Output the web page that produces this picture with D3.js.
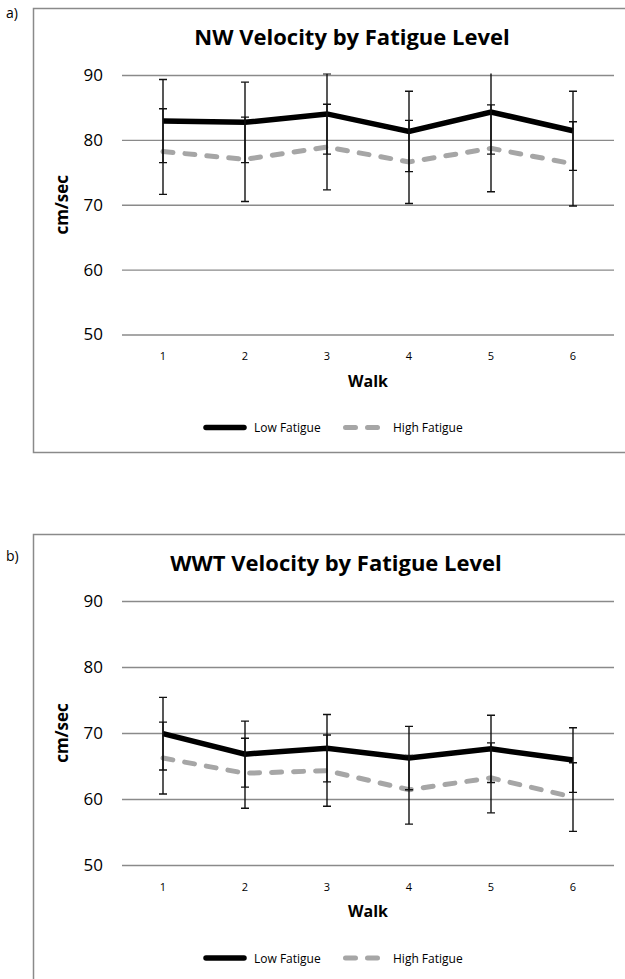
<!DOCTYPE html>
<html>
<head>
<meta charset="utf-8">
<script src="https://cdn.jsdelivr.net/npm/d3@7"></script>
<style>
  html, body { margin: 0; padding: 0; background: #fff; }
  svg { display: block; font-family: "Open Sans", "Liberation Sans", sans-serif; }
</style>
</head>
<body>
<svg id="chart" width="625" height="979"></svg>
<script>
// ---- data ----
const walks = ["1", "2", "3", "4", "5", "6"];
const yTicks = [50, 60, 70, 80, 90];
const seriesNames = ["Low Fatigue", "High Fatigue"];

const nwLow    = [82.9, 82.7, 84.0, 81.3, 84.3, 81.4];
const nwLowSD  = [6.4, 6.2, 6.2, 6.2, 6.5, 6.1];
const nwHigh   = [78.2, 77.0, 78.9, 76.6, 78.7, 76.3];
const nwHighSD = [6.6, 6.5, 6.6, 6.4, 6.7, 6.5];

const wwtLow    = [69.9, 66.8, 67.7, 66.2, 67.6, 65.9];
const wwtLowSD  = [5.5, 5.0, 5.1, 4.8, 5.1, 4.9];
const wwtHigh   = [66.2, 63.9, 64.3, 61.4, 63.2, 60.3];
const wwtHighSD = [5.45, 5.3, 5.4, 5.2, 5.3, 5.2];

// ---- drawing ----
const svg = d3.select("#chart");
const GRID = "#8a8a8a", GRAY = "#a6a6a6";

function drawPanel(opt) {
  const g = svg.append("g");
  // frame
  g.append("path")
    .attr("d", `M660,${opt.frameTop}H33.5V${opt.frameBottom}H660`)
    .attr("fill", "none").attr("stroke", GRID).attr("stroke-width", 1.5);
  // panel letter
  g.append("text").attr("x", 6).attr("y", opt.letterY)
    .attr("font-size", 14).attr("fill", "#000").text(opt.letter);
  // title
  g.append("text").attr("x", opt.titleX).attr("y", opt.yTopPx - 30)
    .attr("text-anchor", "middle").attr("font-size", 22).attr("font-weight", "bold")
    .text(opt.title);

  const x = d3.scaleBand().domain(walks).range([122, 614]);
  const y = d3.scaleLinear().domain([50, 90]).range([opt.yBotPx, opt.yTopPx]);

  // gridlines + y labels
  const yAxis = d3.axisLeft(y).tickValues(yTicks).tickSize(-(614 - 122)).tickPadding(19)
    .tickFormat(d3.format("d"));
  const ya = g.append("g").attr("transform", "translate(122,0)").call(yAxis);
  ya.select(".domain").remove();
  ya.selectAll(".tick line").attr("stroke", GRID).attr("stroke-width", 1.3);
  ya.selectAll(".tick text").attr("font-size", 17).attr("fill", "#000")
    .attr("font-family", "'Open Sans', sans-serif");

  // x labels
  const xAxis = d3.axisBottom(x).tickSize(0).tickPadding(18);
  const xa = g.append("g").attr("transform", `translate(0,${opt.yBotPx})`).call(xAxis);
  xa.select(".domain").remove();
  xa.selectAll(".tick text").attr("font-size", 11).attr("fill", "#000")
    .attr("font-family", "'Open Sans', sans-serif");

  // axis titles
  g.append("text").attr("x", 368).attr("y", opt.yBotPx + 52)
    .attr("text-anchor", "middle").attr("font-size", 16).attr("font-weight", "bold").text("Walk");
  const ymid = (opt.yBotPx + opt.yTopPx) / 2;
  g.append("text").attr("transform", `translate(68,${ymid}) rotate(-90)`)
    .attr("text-anchor", "middle").attr("font-size", 17).attr("font-weight", "bold").text("cm/sec");

  const cx = (d, i) => x(walks[i]) + x.bandwidth() / 2;
  const line = d3.line().x((d, i) => cx(d, i)).y(d => y(d));

  // clip for error bars
  const clipId = "clip" + opt.letter.replace(")", "");
  svg.append("clipPath").attr("id", clipId).append("rect")
    .attr("x", 100).attr("y", opt.yTopPx - 1.5).attr("width", 540).attr("height", opt.yBotPx - opt.yTopPx + 20);

  g.append("path").datum(opt.high).attr("d", line)
    .attr("fill", "none").attr("stroke", GRAY).attr("stroke-width", 5)
    .attr("stroke-dasharray", "10,12").attr("stroke-linecap", "round");
  g.append("path").datum(opt.low).attr("d", line)
    .attr("fill", "none").attr("stroke", "#000").attr("stroke-width", 5.5)
    .attr("stroke-linejoin", "miter");

  const eb = g.append("g").attr("clip-path", `url(#${clipId})`)
    .attr("stroke", "#111").attr("stroke-width", 1.4);
  [[opt.low, opt.lowSD], [opt.high, opt.highSD]].forEach(([m, sd]) => {
    m.forEach((v, i) => {
      const xx = cx(v, i), y1 = y(v + sd[i]), y2 = y(v - sd[i]);
      eb.append("line").attr("x1", xx).attr("x2", xx).attr("y1", y1).attr("y2", y2);
      eb.append("line").attr("x1", xx - 4).attr("x2", xx + 4).attr("y1", y1).attr("y2", y1);
      eb.append("line").attr("x1", xx - 4).attr("x2", xx + 4).attr("y1", y2).attr("y2", y2);
    });
  });

  // legend
  const ly = opt.yBotPx + 93;
  const lg = g.append("g");
  lg.append("line").attr("x1", 206).attr("x2", 244).attr("y1", ly).attr("y2", ly)
    .attr("stroke", "#000").attr("stroke-width", 5.5).attr("stroke-linecap", "round");
  lg.append("text").attr("x", 254).attr("y", ly + 4.5).attr("font-size", 12).text(seriesNames[0]);
  lg.append("line").attr("x1", 345.5).attr("x2", 380).attr("y1", ly).attr("y2", ly)
    .attr("stroke", GRAY).attr("stroke-width", 5).attr("stroke-linecap", "round")
    .attr("stroke-dasharray", "10,12");
  lg.append("text").attr("x", 393).attr("y", ly + 4.5).attr("font-size", 12).text(seriesNames[1]);
}

drawPanel({
  letter: "a)", letterY: 18, title: "NW Velocity by Fatigue Level", titleX: 352,
  frameTop: 8.5, frameBottom: 452.5, yTopPx: 75, yBotPx: 334.5,
  low: nwLow, lowSD: nwLowSD, high: nwHigh, highSD: nwHighSD
});
drawPanel({
  letter: "b)", letterY: 561, title: "WWT Velocity by Fatigue Level", titleX: 336,
  frameTop: 534.5, frameBottom: 1000, yTopPx: 601, yBotPx: 865,
  low: wwtLow, lowSD: wwtLowSD, high: wwtHigh, highSD: wwtHighSD
});
</script>
</body>
</html>
